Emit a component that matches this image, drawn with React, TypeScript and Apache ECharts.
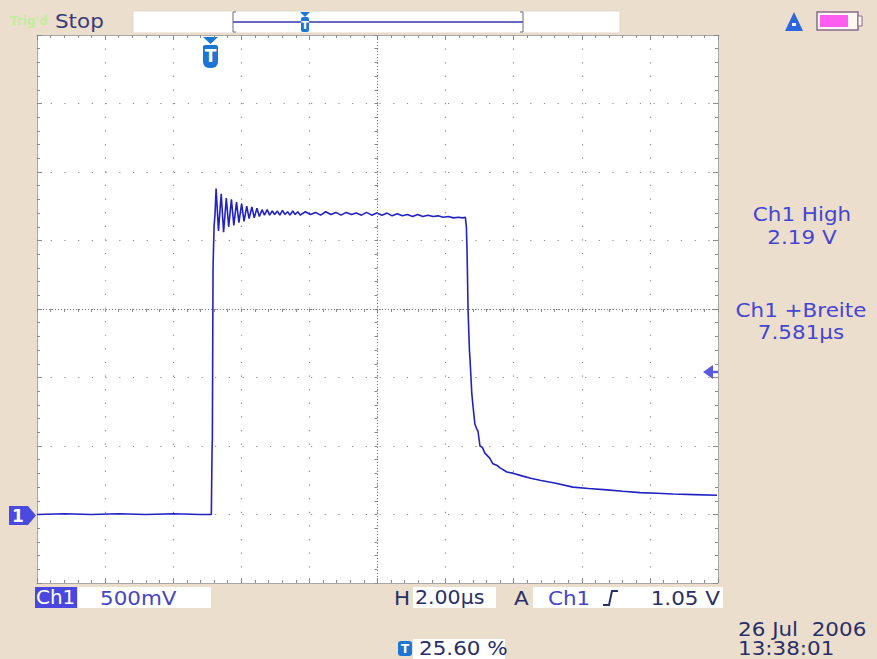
import React, { useEffect, useRef } from "react";
import * as echarts from "echarts";

// time from left edge of screen (µs, 2 µs/div) and voltage (V, 500 mV/div)
const timeUs = [
  0, 0.8, 1.6, 2.4, 3.2, 4.0, 4.8, 5.12,
  5.14, 5.15, 5.17, 5.2, 5.23, 5.26,
  5.33, 5.41, 5.48, 5.56, 5.63, 5.71, 5.78, 5.86, 5.93, 6.01, 6.08, 6.16, 6.23, 6.31, 6.38,
  6.46, 6.53, 6.61, 6.68, 6.76, 6.83, 6.91, 6.98, 7.06, 7.13, 7.21, 7.28, 7.36, 7.43, 7.51,
  7.58, 7.66, 7.73,
  7.88, 8.03, 8.18, 8.33, 8.48, 8.63, 8.78, 8.93, 9.08, 9.23, 9.38, 9.53, 9.68, 9.83, 9.98,
  10.13, 10.28, 10.43, 10.58, 10.73, 10.88, 11.03, 11.18, 11.33, 11.48, 11.63, 11.78, 11.93,
  12.08, 12.23, 12.38, 12.5, 12.58,
  12.61, 12.63, 12.66, 12.7, 12.72, 12.77, 12.81, 12.86, 12.92, 12.95, 13.01, 13.08, 13.15,
  13.3, 13.39, 13.5, 13.6, 13.8, 14.0, 14.27, 14.5, 14.77, 15.2, 15.74, 16.2, 16.74, 17.2,
  17.71, 18.2, 18.68, 19.3, 19.97,
];
const volts = [
  0, 0.005, 0, 0.005, 0, 0.005, 0, 0,
  0.45, 0.55, 1.8, 2.1, 2.2, 2.38,
  2.07, 2.34, 2.06, 2.31, 2.1, 2.3, 2.11, 2.28, 2.13, 2.27, 2.14, 2.25, 2.16, 2.245, 2.165,
  2.235, 2.175, 2.225, 2.185, 2.225, 2.185, 2.215, 2.19, 2.215, 2.185, 2.22, 2.19, 2.21, 2.185, 2.215,
  2.19, 2.21, 2.185,
  2.21, 2.19, 2.205, 2.185, 2.21, 2.19, 2.205, 2.185, 2.205, 2.19, 2.2, 2.185, 2.205, 2.185, 2.2,
  2.185, 2.2, 2.18, 2.195, 2.18, 2.19, 2.175, 2.19, 2.175, 2.185, 2.175, 2.18, 2.17,
  2.175, 2.165, 2.17, 2.165, 2.17,
  2.1, 1.93, 1.49, 1.2, 1.12, 0.88, 0.78, 0.66, 0.62, 0.61, 0.5, 0.49, 0.45,
  0.41, 0.37, 0.36, 0.34, 0.31, 0.3, 0.28, 0.265, 0.25, 0.23, 0.2, 0.19, 0.18, 0.17,
  0.16, 0.155, 0.15, 0.145, 0.14,
];

const xMin = 0;
const xMax = 20;
const xStep = 2;
const yMin = -0.5;
const yMax = 3.5;
const yStep = 0.5;
const xCenter = 10;
const yCenter = 1.5;

const measureLabels = ["Ch1 High", "2.19 V", "Ch1 +Breite", "7.581µs"];
const scaleLabels = ["Ch1", "500mV", "H", "2.00µs", "A", "Ch1", "1.05 V", "25.60 %"];
const statusLabels = ["Trig'd", "Stop"];
const dateLabels = ["26 Jul  2006", "13:38:01"];

const FONT = "DejaVu Sans";
const VIOLET = "#4545d2";
const DARK = "#283066";
const TBLUE = "#1c76d6";
const GRID = "#8c8c8c";
const SX = 1.13;

export default function App() {
  const ref = useRef<HTMLDivElement>(null);
  useEffect(() => {
    if (!ref.current) return;
    const chart = echarts.init(ref.current, undefined, { renderer: "svg" });
    const data = timeUs.map((t, i) => [t, volts[i]]);
    const baseAxis = {
      type: "value" as const,
      axisLabel: { show: false },
      axisLine: { show: true, onZero: false, lineStyle: { color: "#a8a8a8", width: 1 } },
      axisTick: { show: true, inside: true, length: 5, lineStyle: { color: GRID } },
      minorTick: { show: true, splitNumber: 5, length: 3, lineStyle: { color: GRID } },
      splitLine: { show: false },
    };
    const centerAxis = {
      axisLine: { show: false, onZero: false },
      axisTick: { show: true, inside: false, length: 3, lineStyle: { color: GRID } },
      minorTick: { show: true, splitNumber: 5, length: 3, lineStyle: { color: GRID } },
    };
    const txt = (x: number, y: number, text: string, color: string, size = 19, align = "left", weight = "normal", sx = SX) => ({
      type: "text",
      x,
      y,
      scaleX: sx,
      style: { text, fill: color, font: `${weight} ${size}px "${FONT}"`, textAlign: align, textVerticalAlign: "middle" },
    });
    chart.setOption({
      animation: false,
      backgroundColor: "#ecdecd",
      grid: { left: 37, top: 35, width: 681, height: 548, show: true, backgroundColor: "#ffffff", borderWidth: 0 },
      xAxis: [
        {
          ...baseAxis,
          min: xMin, max: xMax, interval: xStep, position: "bottom",
          splitLine: { show: true, lineStyle: { color: GRID, width: 1.2, type: [1.2, 12.42] } },
        },
        { ...baseAxis, min: xMin, max: xMax, interval: xStep, position: "top" },
        { ...baseAxis, ...centerAxis, min: xMin, max: xMax, interval: xStep, position: "bottom", offset: -274 },
      ],
      yAxis: [
        {
          ...baseAxis,
          min: yMin, max: yMax, interval: yStep, position: "left",
          splitLine: { show: true, lineStyle: { color: GRID, width: 1.2, type: [1.2, 12.5] } },
        },
        { ...baseAxis, min: yMin, max: yMax, interval: yStep, position: "right" },
        { ...baseAxis, ...centerAxis, min: yMin, max: yMax, interval: yStep, position: "left", offset: -340.5 },
      ],
      series: [
        {
          type: "line",
          data,
          xAxisIndex: 0,
          yAxisIndex: 0,
          showSymbol: false,
          lineStyle: { color: "#2222c4", width: 1.6 },
          markLine: {
            silent: true,
            symbol: "none",
            label: { show: false },
            lineStyle: { color: "#7a7a7a", type: [1, 2], width: 1 },
            data: [{ xAxis: xCenter }, { yAxis: yCenter }],
          },
        },
      ],
      graphic: [
        // status bar
        txt(10, 21, statusLabels[0], "#c4eb9c", 12, "left", "bold", 1),
        txt(55, 21, statusLabels[1], "#3a3a78", 19),
        { type: "rect", shape: { x: 133, y: 11, width: 487, height: 22 }, style: { fill: "#ffffff", stroke: "#e2d6c8" } },
        { type: "line", shape: { x1: 233, y1: 22, x2: 523, y2: 22 }, style: { stroke: "#3535a8", lineWidth: 1.5 } },
        { type: "polyline", shape: { points: [[236, 12], [233, 12], [233, 32], [236, 32]] }, style: { stroke: "#6a6a90", fill: null, lineWidth: 1 } },
        { type: "polyline", shape: { points: [[520, 12], [523, 12], [523, 32], [520, 32]] }, style: { stroke: "#6a6a90", fill: null, lineWidth: 1 } },
        { type: "polygon", shape: { points: [[300, 12], [310, 12], [305, 17]] }, style: { fill: TBLUE } },
        { type: "rect", shape: { x: 301, y: 17, width: 8, height: 15, r: 2 }, style: { fill: TBLUE } },
        txt(305, 25, "T", "#ffffff", 11, "center", "bold", 1),
        // A icon and battery
        { type: "polygon", shape: { points: [[785, 31], [794, 12], [803, 31]] }, style: { fill: "#2a66dd" } },
        { type: "rect", shape: { x: 792, y: 23, width: 4, height: 3 }, style: { fill: "#ffffff" } },
        { type: "rect", shape: { x: 817, y: 12, width: 41, height: 18 }, style: { fill: "#fff8f0", stroke: "#8a6a8a", lineWidth: 1.5 } },
        { type: "rect", shape: { x: 820, y: 15, width: 28, height: 12 }, style: { fill: "#ff5cf0" } },
        { type: "rect", shape: { x: 858, y: 16, width: 4, height: 10 }, style: { fill: "#fff8f0", stroke: "#8a6a8a", lineWidth: 1 } },
        // trigger position marker
        { type: "polygon", shape: { points: [[203, 37], [218, 37], [210.5, 44]] }, style: { fill: TBLUE } },
        { type: "rect", shape: { x: 203, y: 45, width: 15, height: 23, r: [2, 2, 6, 6] }, style: { fill: TBLUE } },
        txt(210.5, 56, "T", "#ffffff", 17, "center", "bold", 1),
        // ground marker
        { type: "polygon", shape: { points: [[9, 506], [28, 506], [36, 515.5], [28, 525], [9, 525]] }, style: { fill: "#4a4ae0" } },
        txt(18, 516, "1", "#ffffff", 17, "center", "bold", 1),
        // trigger level arrow
        { type: "polygon", shape: { points: [[703, 372], [713, 365], [713, 379]] }, style: { fill: "#5a5ae0" } },
        { type: "line", shape: { x1: 712, y1: 372, x2: 718, y2: 372 }, style: { stroke: "#5a5ae0", lineWidth: 2.5 } },
        // measurements
        txt(802, 214, measureLabels[0], VIOLET, 19, "center"),
        txt(802, 237, measureLabels[1], VIOLET, 19, "center"),
        txt(801, 310, measureLabels[2], VIOLET, 19, "center"),
        txt(801, 332, measureLabels[3], VIOLET, 19, "center"),
        // bottom bar
        { type: "rect", shape: { x: 35, y: 587, width: 42, height: 21 }, style: { fill: "#4848e0" } },
        txt(36, 598, scaleLabels[0], "#ffffff", 19, "left", "normal", 1.05),
        { type: "rect", shape: { x: 78, y: 587, width: 133, height: 21 }, style: { fill: "#ffffff" } },
        txt(100, 598, scaleLabels[1], "#4646c4", 19),
        txt(394, 598, scaleLabels[2], DARK, 19),
        { type: "rect", shape: { x: 413, y: 587, width: 83, height: 21 }, style: { fill: "#ffffff" } },
        txt(415, 598, scaleLabels[3], DARK, 19, "left", "normal", 1.08),
        txt(514, 598, scaleLabels[4], DARK, 19),
        { type: "rect", shape: { x: 533, y: 587, width: 190, height: 21 }, style: { fill: "#ffffff" } },
        txt(548, 598, scaleLabels[5], "#4646c4", 19),
        { type: "polyline", shape: { points: [[603, 605], [609, 605], [612, 591], [618, 591]] }, style: { stroke: DARK, lineWidth: 2, fill: null } },
        txt(720, 598, scaleLabels[6], DARK, 19, "right"),
        { type: "rect", shape: { x: 398, y: 641, width: 14, height: 15, r: 3 }, style: { fill: TBLUE } },
        txt(405, 649, "T", "#ffffff", 12, "center", "bold", 1),
        { type: "rect", shape: { x: 413, y: 639, width: 92, height: 20 }, style: { fill: "#ffffff" } },
        txt(419, 648, scaleLabels[7], DARK, 19),
        txt(738, 629, dateLabels[0], DARK, 19),
        txt(738, 648, dateLabels[1], DARK, 19),
      ],
    });
    return () => chart.dispose();
  }, []);
  return <div ref={ref} style={{ position: "fixed", left: 0, top: 0, width: 877, height: 659 }} />;
}
